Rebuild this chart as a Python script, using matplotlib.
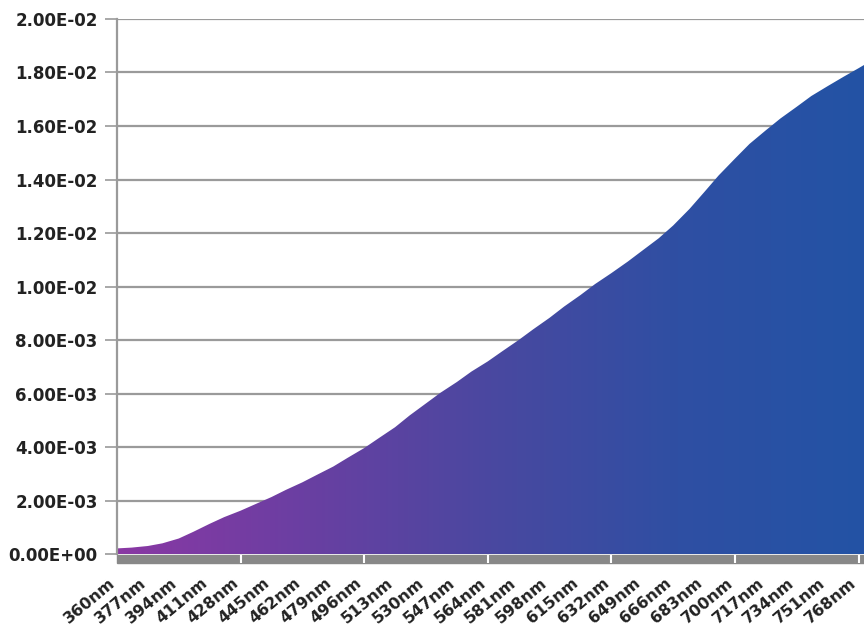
import matplotlib.pyplot as plt
import numpy as np
from matplotlib.colors import LinearSegmentedColormap
from matplotlib.patches import Rectangle
from matplotlib.ticker import FuncFormatter
from matplotlib.transforms import ScaledTranslation

# wavelength (nm) and value
wavelength = [360, 368, 377, 385, 394, 402, 411, 419, 428, 436, 445, 453, 462,
              470, 479, 487, 496, 504, 513, 521, 530, 538, 547, 555, 564, 572,
              581, 589, 598, 606, 615, 623, 632, 641, 649, 658, 666, 675, 683,
              691, 700, 708, 717, 725, 734, 742, 751, 760, 768, 771]
value = [0.00021, 0.00024, 0.00030, 0.00040, 0.00058, 0.00083, 0.00113,
         0.00138, 0.00162, 0.00186, 0.00213, 0.00240, 0.00268, 0.00296,
         0.00327, 0.00360, 0.00396, 0.00433, 0.00474, 0.00518, 0.00563,
         0.00603, 0.00643, 0.00682, 0.00720, 0.00758, 0.00800, 0.00840,
         0.00883, 0.00925, 0.00968, 0.01009, 0.01050, 0.01093, 0.01134,
         0.01180, 0.01228, 0.01290, 0.01352, 0.01415, 0.01478, 0.01533,
         0.01584, 0.01628, 0.01672, 0.01712, 0.01749, 0.01785, 0.01816,
         0.01828]

tick_nm = list(range(360, 769, 17))
tick_labels = ['%dnm' % w for w in tick_nm]
major_marks = [428, 496, 564, 632, 700, 768]

fig = plt.figure(figsize=(8.64, 6.29), dpi=100)
ax = fig.add_axes([0.1354, 0.1192, 0.8646, 0.8506])

xmin, xmax = 360, 771
ymin, ymax = 0, 0.02

# gradient fill clipped to the area under the curve
poly = ax.fill_between(wavelength, value, 0, color='none', lw=0)
cmap = LinearSegmentedColormap.from_list(
    'spec', ['#8a38a4', '#6a3fa2', '#4a48a0', '#2f4fa3', '#2353a5'])
grad = np.linspace(0, 1, 256).reshape(1, -1)
img = ax.imshow(grad, extent=[xmin, xmax, ymin, ymax], aspect='auto',
                cmap=cmap, origin='lower', zorder=2)
img.set_clip_path(poly.get_paths()[0], transform=ax.transData)

ax.set_xlim(xmin, xmax)
ax.set_ylim(ymin, ymax)

# y axis
ax.set_yticks(np.arange(0, 0.0201, 0.002))
ax.yaxis.set_major_formatter(FuncFormatter(lambda v, p: '%.2E' % v))
ax.yaxis.grid(True, color='#9a9a9a', lw=1.6, zorder=1)
ax.set_axisbelow(True)
ax.tick_params(axis='y', length=9, width=1.2, color='#9a9a9a', pad=5,
               labelsize=12)
for t in ax.get_yticklabels():
    t.set_fontweight('bold')
    t.set_color('#222222')

# x axis
ax.set_xticks(tick_nm)
ax.set_xticklabels(tick_labels, rotation=40, ha='right',
                   rotation_mode='anchor', fontsize=11.5, fontweight='bold',
                   color='#222222')
ax.tick_params(axis='x', length=0, pad=15)
shift = ScaledTranslation(-9 / 100, 0, fig.dpi_scale_trans)
for t in ax.get_xticklabels():
    t.set_transform(t.get_transform() + shift)

for s in ['top', 'right', 'bottom']:
    ax.spines[s].set_visible(False)
ax.spines['left'].set_color('#9a9a9a')
ax.spines['left'].set_linewidth(1.6)

# gray bar under the axis with white separators
ax.add_patch(Rectangle((0, -0.017), 1, 0.016, transform=ax.transAxes,
                       color='#888888', clip_on=False, zorder=3))
ax.vlines(major_marks, -0.017, -0.001, transform=ax.get_xaxis_transform(),
          colors='white', lw=1.5, clip_on=False, zorder=4)

fig.savefig('out.png', dpi=100, facecolor='white')
